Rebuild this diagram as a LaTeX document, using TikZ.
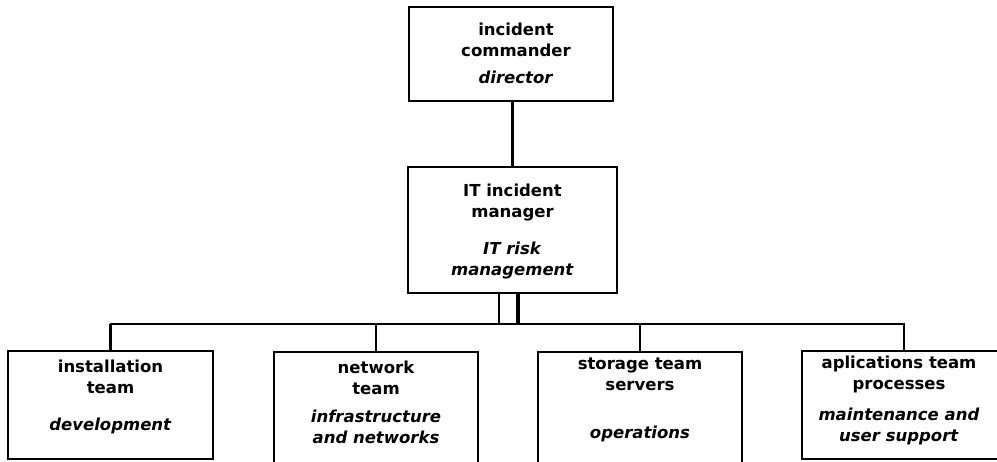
\documentclass[tikz,border=0pt]{standalone}
\usepackage{fontspec}
\setmainfont{DejaVu Sans}
\begin{document}
\begin{tikzpicture}[x=1pt,y=-1pt,
  box/.style={draw=black, line width=2.5pt, fill=white, inner sep=0pt},
  txt/.style={align=center, anchor=base, inner sep=0pt, font=\bfseries\fontsize{16.5}{21}\selectfont},
  wire/.style={draw=black, line width=2.5pt}]
\useasboundingbox (0,0) rectangle (997,461);
\clip (0,0) rectangle (997,461);
% boxes
\node[box, minimum width=204pt, minimum height=94pt] (cmdr) at (511,54) {};
\node[box, minimum width=209pt, minimum height=126pt] (itmgr) at (512.5,230) {};
\node[box, minimum width=205pt, minimum height=108pt] (inst) at (110.5,405) {};
\node[box, minimum width=204pt, minimum height=116pt] (netw) at (376,410) {};
\node[box, minimum width=204pt, minimum height=116pt] (stor) at (640,410) {};
\node[box, minimum width=204pt, minimum height=108pt] (apps) at (904,405) {};
% texts (anchored on the last line)
\node[txt] (cmdrt) at ([xshift=5pt,yshift=-78pt]cmdr.north) {incident\\commander\\[6pt]\textit{director}};
\node[txt] (itmgrt) at ([yshift=-110pt]itmgr.north) {IT incident\\manager\\[16pt]\textit{IT risk}\\\textit{management}};
\node[txt] (instt) at ([yshift=-81pt]inst.north) {installation\\team\\[16pt]\textit{development}};
\node[txt] (netwt) at ([yshift=-93pt]netw.north) {network\\team\\[7pt]\textit{infrastructure}\\\textit{and networks}};
\node[txt] (stort) at ([yshift=-88pt]stor.north) {storage team\\servers\\[27pt]\textit{operations}};
\node[txt] (appst) at ([xshift=-5pt,yshift=-92pt]apps.north) {aplications team\\processes\\[10pt]\textit{maintenance and}\\\textit{user support}};
% connectors
\coordinate (bus) at (0,324);
\draw[wire] (itmgr.north |- cmdr.south) -- (itmgr.north);
\draw[wire] ([xshift=-13.5pt]itmgr.south) -- ([xshift=-13.5pt]itmgr.south |- bus);
\draw[wire, line width=4pt] ([xshift=5.5pt]itmgr.south) -- ([xshift=5.5pt]itmgr.south |- bus);
\draw[wire] ([xshift=-1pt]inst.north |- bus) -- ([xshift=1pt]apps.north |- bus);
\foreach \b in {inst,netw,stor,apps}
  \draw[wire] (\b.north) -- (\b.north |- bus);
\end{tikzpicture}
\end{document}
